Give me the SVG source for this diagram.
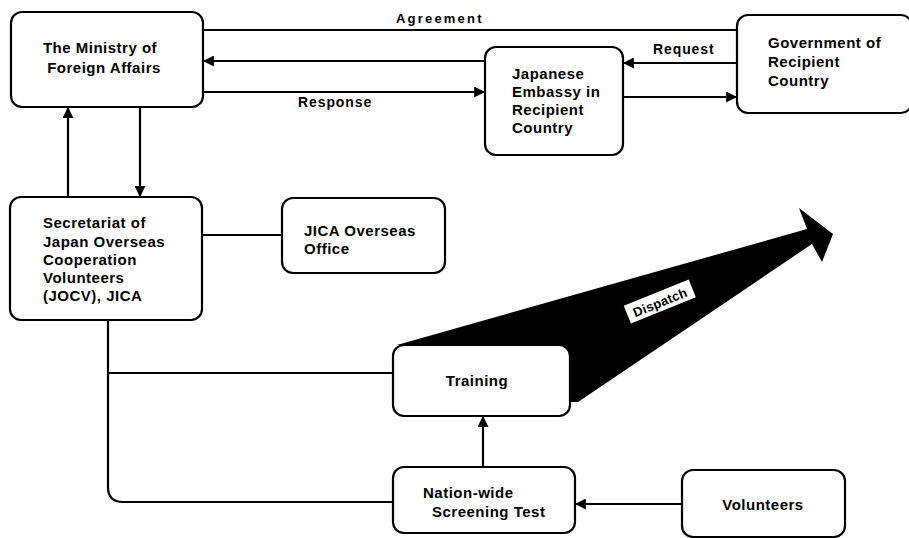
<svg xmlns="http://www.w3.org/2000/svg" width="909" height="538" viewBox="0 0 909 538">
<style>
.box{fill:#fff;stroke:#000;stroke-width:2.2}
.ln{fill:none;stroke:#000;stroke-width:2.2}
text{font-family:"Liberation Sans",Arial,sans-serif;font-weight:bold;font-size:15px;letter-spacing:0.5px;fill:#000}
.c{text-anchor:middle}
.lb{font-size:14px;letter-spacing:0.9px}
</style>
<defs>
<marker id="ah" viewBox="0 0 10 10" refX="9" refY="5" markerWidth="5" markerHeight="5" orient="auto" markerUnits="strokeWidth">
<path d="M0,0 L10,5 L0,10 z" fill="#000"/>
</marker>
</defs>
<rect width="909" height="538" fill="#fff"/>
<g id="connectors">
<line class="ln" x1="203" y1="30" x2="737" y2="30"/>
<line class="ln" x1="485" y1="61" x2="204" y2="61" marker-end="url(#ah)"/>
<line class="ln" x1="203" y1="92" x2="484" y2="92" marker-end="url(#ah)"/>
<line class="ln" x1="737" y1="63" x2="624" y2="63" marker-end="url(#ah)"/>
<line class="ln" x1="623" y1="97" x2="736" y2="97" marker-end="url(#ah)"/>
<line class="ln" x1="68" y1="197" x2="68" y2="108" marker-end="url(#ah)"/>
<line class="ln" x1="140" y1="107" x2="140" y2="196" marker-end="url(#ah)"/>
<line class="ln" x1="202" y1="235" x2="282" y2="235"/>
<path class="ln" d="M108,320 V487 Q108,502 123,502 H393"/>
<line class="ln" x1="108" y1="373" x2="393" y2="373"/>
<line class="ln" x1="483" y1="467" x2="483" y2="417" marker-end="url(#ah)"/>
<line class="ln" x1="682" y1="504" x2="576" y2="504" marker-end="url(#ah)"/>
<polygon points="397,345 807,229 799,208 833,234 822,262 812,244 578,402 560,402 560,345" fill="#000"/>
<text x="396" y="23" style="letter-spacing:2.2px;font-size:13px">Agreement</text>
<text class="lb" x="298" y="107">Response</text>
<text class="lb" x="653" y="54">Request</text>
</g>
<g id="ministry">
<rect class="box" x="11" y="12" width="192" height="95" rx="11"/>
<text class="c" x="100" y="53">The Ministry of</text>
<text class="c" x="104" y="73">Foreign Affairs</text>
</g>
<g id="embassy">
<rect class="box" x="485" y="47" width="138" height="108" rx="11"/>
<text x="512" y="79">Japanese</text>
<text x="512" y="97">Embassy in</text>
<text x="512" y="115">Recipient</text>
<text x="512" y="133">Country</text>
</g>
<g id="government">
<rect class="box" x="737" y="15" width="175" height="98" rx="11"/>
<text x="768" y="48">Government of</text>
<text x="768" y="67">Recipient</text>
<text x="768" y="86">Country</text>
</g>
<g id="secretariat">
<rect class="box" x="10" y="197" width="192" height="123" rx="11"/>
<text x="43" y="228">Secretariat of</text>
<text x="43" y="247">Japan Overseas</text>
<text x="43" y="265">Cooperation</text>
<text x="43" y="283">Volunteers</text>
<text x="43" y="301">(JOCV), JICA</text>
</g>
<g id="jica-office">
<rect class="box" x="282" y="198" width="163" height="75" rx="11"/>
<text x="304" y="236">JICA Overseas</text>
<text x="304" y="254">Office</text>
</g>
<g id="training">
<rect class="box" x="393" y="345" width="177" height="71" rx="11"/>
<text class="c" x="477" y="386">Training</text>
</g>
<g id="dispatch">
<g transform="translate(660,302) rotate(-22)">
<rect x="-35" y="-10" width="70" height="19" fill="#fff"/>
<text class="c" x="0" y="5" style="font-size:13px;letter-spacing:0.3px">Dispatch</text>
</g>
</g>
<g id="screening">
<rect class="box" x="393" y="467" width="182" height="66" rx="11"/>
<text x="423" y="498">Nation-wide</text>
<text x="432" y="517">Screening Test</text>
</g>
<g id="volunteers">
<rect class="box" x="682" y="470" width="163" height="67" rx="11"/>
<text class="c" x="763" y="510">Volunteers</text>
</g>
</svg>
